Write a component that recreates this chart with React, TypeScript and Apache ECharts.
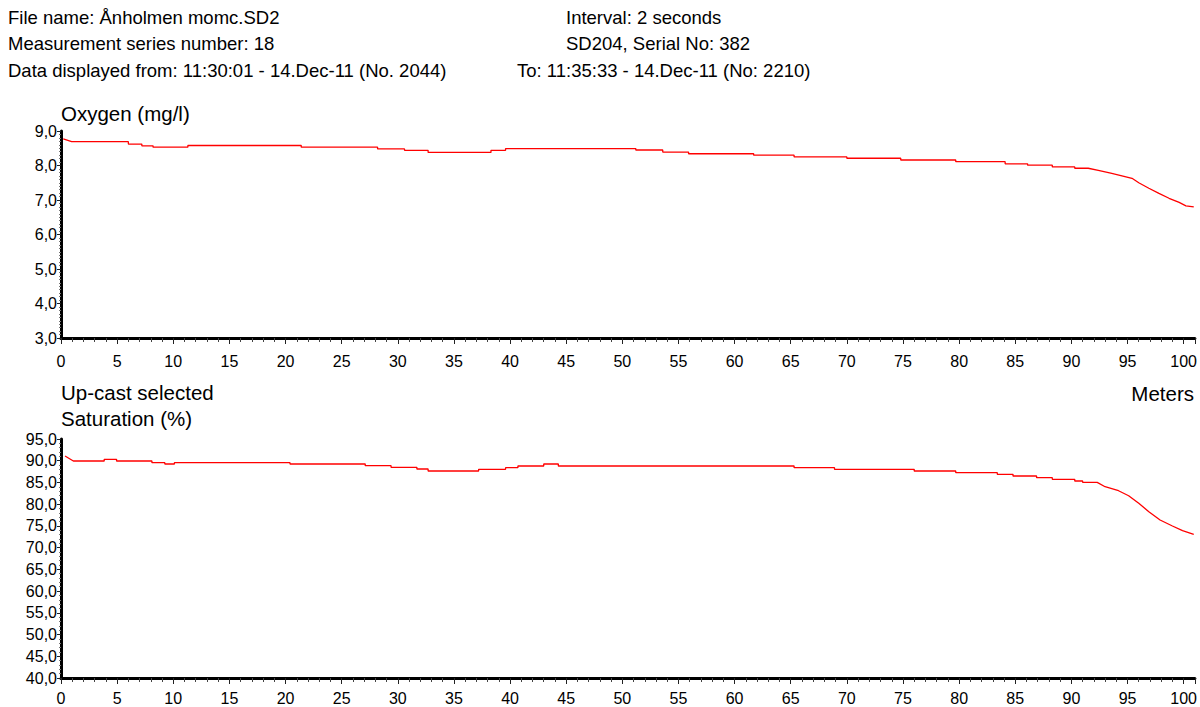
import React, { useEffect, useRef } from "react";
import * as echarts from "echarts";

// ---- Data ----
const xTicks = [0, 5, 10, 15, 20, 25, 30, 35, 40, 45, 50, 55, 60, 65, 70, 75, 80, 85, 90, 95, 100];

// Oxygen (mg/l) vs depth (m)
const oxyHead: [number, number][] = [[0.2, 8.77]];
const oxyPlateauStart = [0.95, 6.0, 7.2, 8.2, 11.3, 21.4, 28.2, 30.6, 32.7, 38.3, 39.6, 51.2, 53.6, 55.9, 61.7, 65.3, 70.0, 74.8, 79.7, 84.1, 86.1, 88.3, 90.3];
const oxyPlateauLevel = [8.69, 8.62, 8.57, 8.53, 8.58, 8.53, 8.48, 8.44, 8.38, 8.44, 8.49, 8.45, 8.39, 8.34, 8.30, 8.25, 8.21, 8.16, 8.11, 8.05, 8.01, 7.96, 7.92];
const oxyTailDepth = [91.5, 92.4, 93.6, 94.5, 95.4, 96.0, 96.9, 97.8, 98.7, 99.6, 100.2, 100.9];
const oxyTailValue = [7.92, 7.86, 7.77, 7.70, 7.63, 7.50, 7.34, 7.19, 7.05, 6.93, 6.83, 6.80];

// Saturation (%) vs depth (m)
const satHead: [number, number][] = [[0.36, 91.09]];
const satPlateauStart = [1.1, 3.85, 4.95, 8.1, 9.25, 10.1, 20.4, 27.1, 29.4, 31.7, 32.7, 37.2, 39.6, 40.7, 43.0, 44.3, 65.3, 68.9, 76.0, 79.7, 83.4, 84.8, 86.9, 88.3, 90.3, 91.0];
const satPlateauLevel = [89.94, 90.32, 89.94, 89.55, 89.25, 89.55, 89.25, 88.86, 88.48, 88.10, 87.64, 88.02, 88.40, 88.79, 89.25, 88.79, 88.40, 88.02, 87.64, 87.25, 86.87, 86.48, 86.09, 85.72, 85.33, 85.03];
const satTailDepth = [92.3, 93.0, 94.2, 95.1, 96.0, 96.9, 97.9, 99.0, 99.9, 100.9];
const satTailValue = [85.03, 84.02, 83.10, 81.95, 80.20, 78.27, 76.36, 74.98, 73.9, 73.07];

const headerLines = [
  "File name: Ånholmen momc.SD2",
  "Measurement series number: 18",
  "Data displayed from: 11:30:01 - 14.Dec-11 (No. 2044)",
];
const headerRight = ["Interval: 2 seconds", "SD204, Serial No: 382"];
const headerTo = "To: 11:35:33 - 14.Dec-11 (No: 2210)";

function build(
  head: [number, number][],
  starts: number[],
  levels: number[],
  tailX: number[],
  tailY: number[]
): [number, number][] {
  const pts: [number, number][] = [...head];
  for (let i = 0; i < starts.length; i++) {
    const next = i + 1 < starts.length ? starts[i + 1] : tailX[0];
    pts.push([starts[i], levels[i]]);
    pts.push([next, levels[i]]);
  }
  for (let i = 0; i < tailX.length; i++) pts.push([tailX[i], tailY[i]]);
  return pts;
}

const FONT = "'Liberation Sans', Arial, sans-serif";

export default function App() {
  const ref = useRef<HTMLDivElement>(null);
  useEffect(() => {
    if (!ref.current) return;
    const chart = echarts.init(ref.current, undefined, { renderer: "svg" });
    const fmt = (v: number) => v.toFixed(1).replace(".", ",");
    const xAxisBase = (gridIndex: number, margin: number) => ({
      type: "value" as const,
      gridIndex,
      min: 0,
      max: 101,
      interval: 5,
      axisLine: { show: true, onZero: false, lineStyle: { color: "#000", width: 3 } },
      axisTick: { show: true, length: 6, lineStyle: { color: "#222", width: 1 } },
      minorTick: { show: true, splitNumber: 5, length: 4, lineStyle: { color: "#444", width: 1 } },
      splitLine: { show: false },
      axisLabel: {
        margin,
        color: "#000",
        fontFamily: FONT,
        fontSize: 16,
        formatter: (v: number) => (xTicks.includes(v) ? String(v) : ""),
      },
    });
    const yAxisBase = (gridIndex: number, min: number, max: number, interval: number, minorSplit: number) => ({
      type: "value" as const,
      gridIndex,
      min,
      max,
      interval,
      axisLine: { show: true, lineStyle: { color: "#000", width: 3 } },
      axisTick: { show: true, length: 4, lineStyle: { color: "#222", width: 1 } },
      minorTick: { show: true, splitNumber: minorSplit, length: 2, lineStyle: { color: "#777", width: 1 } },
      splitLine: { show: false },
      axisLabel: { margin: 4, color: "#000", fontFamily: FONT, fontSize: 16, formatter: fmt },
    });

    const txt = (text: string, x: number, y: number, size: number, align = "left") => ({
      type: "text",
      x,
      y,
      silent: true,
      style: { text, fill: "#000", font: `${size}px ${FONT}`, align, verticalAlign: "middle" },
    });

    const HS = 18.5;
    const graphics: any[] = [];
    headerLines.forEach((t, i) => graphics.push(txt(t, 8, 17 + i * 26.5, HS)));
    headerRight.forEach((t, i) => graphics.push(txt(t, 566, 17 + i * 26.5, HS)));
    graphics.push(txt(headerTo, 517, 70, HS));
    graphics.push(txt("Oxygen (mg/l)", 61, 113, 20.5));
    graphics.push(txt("Up-cast selected", 61, 392, 20.5));
    graphics.push(txt("Saturation (%)", 61, 418, 20.5));
    graphics.push(txt("Meters", 1194, 393, 20.5, "right"));

    chart.setOption({
      animation: false,
      backgroundColor: "#fff",
      grid: [
        { left: 61, top: 131, width: 1135, height: 207 },
        { left: 61, top: 439, width: 1135, height: 239 },
      ],
      xAxis: [xAxisBase(0, 15), xAxisBase(1, 12)],
      yAxis: [yAxisBase(0, 3, 9, 1, 10), yAxisBase(1, 40, 95, 5, 5)],
      series: [
        {
          type: "line",
          xAxisIndex: 0,
          yAxisIndex: 0,
          showSymbol: false,
          lineStyle: { color: "#ff0000", width: 1.3 },
          data: build(oxyHead, oxyPlateauStart, oxyPlateauLevel, oxyTailDepth, oxyTailValue),
        },
        {
          type: "line",
          xAxisIndex: 1,
          yAxisIndex: 1,
          showSymbol: false,
          lineStyle: { color: "#ff0000", width: 1.3 },
          data: build(satHead, satPlateauStart, satPlateauLevel, satTailDepth, satTailValue),
        },
      ],
      graphic: graphics,
    });
    return () => chart.dispose();
  }, []);
  return (
    <div
      ref={ref}
      style={{ position: "absolute", left: 0, top: 0, width: 1200, height: 707, background: "#fff" }}
    />
  );
}
